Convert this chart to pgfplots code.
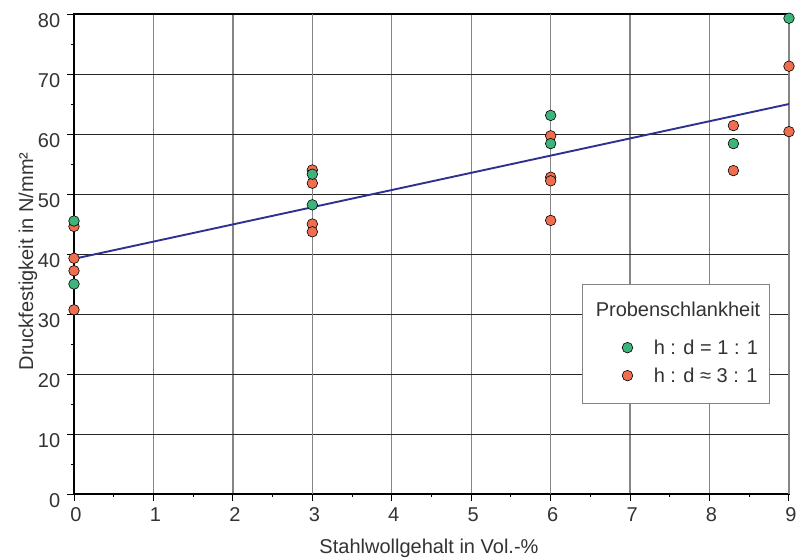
\documentclass[border=0pt]{standalone}
\usepackage{fontspec}
\setmainfont{Liberation Sans}
\usepackage{pgfplots}
\pgfplotsset{compat=1.18}

\definecolor{ptgreen}{HTML}{3DB47A}
\definecolor{ptorange}{HTML}{F06E50}
\definecolor{fitblue}{HTML}{2E3192}
\definecolor{txt}{HTML}{333333}
\definecolor{gridgray}{HTML}{858585}

\begin{document}
\fontsize{20}{24}\selectfont
\begin{tikzpicture}
\begin{axis}[
    scale only axis,
    width=715pt, height=480pt,
    xmin=0, xmax=9, ymin=0, ymax=80,
    clip=false,
    xtick={0,1,2,4,5,7,8},
    extra x ticks={3,6,9},
    extra x tick style={grid style={black!85, line width=1pt}},
    minor xtick={0.5,1.5,...,8.5},
    ytick={0,10,...,80},
    minor y tick num=1,
    tick pos=left,
    tick align=outside,
    major tick length=7pt,
    minor tick length=3pt,
    tick style={black, line width=1pt},
    axis line style={black, line width=1.3pt},
    xmajorgrids, ymajorgrids,
    x grid style={gridgray, line width=1.3pt},
    y grid style={black!85, line width=1pt},
    /pgf/number format/assume math mode=true,
    ticklabel style={font=\fontsize{20}{24}\selectfont, text=txt},
    yticklabel style={yshift=-6.5pt},
    xticklabel style={xshift=2pt},
    xlabel={Stahlwollgehalt in Vol.-\%},
    ylabel={Druckfestigkeit in N/mm²},
    label style={font=\fontsize{20}{24}\selectfont, text=txt},
    xlabel style={at={(rel axis cs:0.4965,-0.1245)}, anchor=base},
    ylabel style={at={(rel axis cs:-0.0573,0.4844)}, anchor=base},
    legend style={at={(0.7667,0.32)}, anchor=north west, draw=none, fill=none,
        inner sep=0pt, outer sep=0pt, row sep=13.5pt, column sep=21pt,
        font=\fontsize{20}{24}\selectfont, text=txt,
        nodes={inner sep=0pt, text depth=0pt}},
    legend cell align=left,
    reverse legend,
    legend image code/.code={\draw[#1] plot coordinates {(0pt,0pt)};},
]

% corners of the page
\coordinate (bbsw) at (rel axis cs:-0.1035,-0.1354);
\coordinate (bbne) at (rel axis cs:1.0126,1.0292);

% legend box and title
\draw[gridgray, line width=1pt, fill=white]
    (rel axis cs:0.7105,0.1896) rectangle (rel axis cs:0.9734,0.4375);
\node[anchor=base, text=txt, font=\fontsize{20}{24}\selectfont]
    at (rel axis cs:0.8448,0.3708) {Probenschlankheit};

% h:d ~ 3:1
\addplot[only marks, mark=*, mark size=5.3pt,
    mark options={fill=ptorange, draw=black, line width=0.6pt}] coordinates {
    (0,44.6) (0,39.3) (0,37.2) (0,30.7)
    (3,54.0) (3,51.8) (3,45.0) (3,43.7)
    (6,59.7) (6,52.8) (6,52.2) (6,45.6)
    (8.3,61.4) (8.3,53.9)
    (9,71.3) (9,60.4)
};
\addlegendentry{h : d ≈ 3 : 1}

% h:d = 1:1
\addplot[only marks, mark=*, mark size=5.3pt,
    mark options={fill=ptgreen, draw=black, line width=0.6pt}] coordinates {
    (0,45.5) (0,35.0)
    (3,53.3) (3,48.2)
    (6,63.1) (6,58.4)
    (8.3,58.4)
    (9,79.3)
};
\addlegendentry{h : d = 1 : 1}

% regression line
\addplot[fitblue, line width=1.9pt, forget plot] coordinates {(0,39.2) (9,65.0)};

\end{axis}
\pgfresetboundingbox
\path[use as bounding box] (bbsw) rectangle (bbne);
\end{tikzpicture}
\end{document}
